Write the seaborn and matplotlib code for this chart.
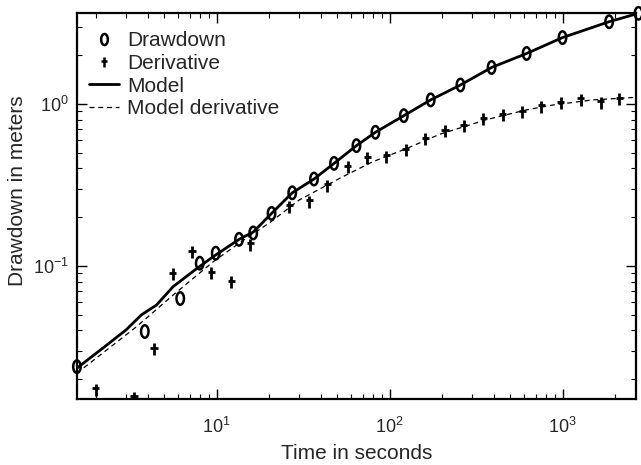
import numpy as np
import pandas as pd
import matplotlib
matplotlib.use("Agg")
import matplotlib.pyplot as plt
from matplotlib.path import Path
from matplotlib.lines import Line2D
import seaborn as sns

# ---- data ----
drawdown_t = [1.56, 3.85, 6.17, 8.0, 9.9, 13.5, 16.3, 20.8, 27.4, 36.6, 47.8, 64.4,
              82.9, 121, 173, 257, 389, 620, 1000, 1860, 2750]
drawdown_s = [0.0239, 0.0394, 0.063, 0.104, 0.12, 0.146, 0.16, 0.211, 0.283, 0.344,
              0.43, 0.553, 0.669, 0.847, 1.06, 1.31, 1.68, 2.05, 2.57, 3.22, 3.63]

deriv_t = [2.0, 3.33, 4.35, 5.59, 7.22, 9.35, 12.2, 15.7, 26.3, 34.3, 43.8, 57.2, 74.6,
           96, 124, 161, 209, 269, 348, 452, 585, 754, 975, 1277, 1660, 2127]
deriv_s = [0.0172, 0.0154, 0.0306, 0.0889, 0.1216, 0.090, 0.0794, 0.135, 0.232, 0.249,
           0.313, 0.407, 0.462, 0.473, 0.52, 0.605, 0.681, 0.731, 0.807, 0.855, 0.889,
           0.962, 1.01, 1.06, 1.02, 1.07]

model_t = [1.56, 2.21, 3.0, 3.68, 4.5, 5.61, 7.5, 9.55, 13.5, 16.3, 20.8, 27.4, 36.6,
           47.8, 64.4, 82.9, 121, 173, 257, 389, 620, 1000, 1860, 2750]
model_s = [0.0234, 0.0312, 0.0403, 0.0499, 0.0574, 0.0745, 0.0945, 0.114, 0.146, 0.162,
           0.211, 0.283, 0.344, 0.43, 0.553, 0.669, 0.847, 1.06, 1.31, 1.68, 2.05, 2.57,
           3.22, 3.63]

mderiv_t = [1.56, 2.2, 3.45, 5.6, 9.55, 14, 20.3, 30, 51.6, 80, 125, 195, 363, 620,
            883, 1500, 2700]
mderiv_s = [0.0218, 0.029, 0.0422, 0.066, 0.106, 0.142, 0.185, 0.255, 0.348, 0.44,
            0.53, 0.65, 0.80, 0.92, 0.986, 1.06, 1.10]

x_ticks = [10, 100, 1000]
x_ticklabels = ["$10^{1}$", "$10^{2}$", "$10^{3}$"]
y_ticks = [0.1, 1]
y_ticklabels = ["$10^{-1}$", "$10^{0}$"]

labels = ["Drawdown", "Derivative", "Model", "Model derivative"]

# ---- style ----
sns.set_style("white")
plt.rcParams["font.family"] = ["Liberation Sans", "DejaVu Sans"]
plt.rcParams["mathtext.default"] = "regular"
plt.rcParams["mathtext.fontset"] = "custom"
plt.rcParams["mathtext.rm"] = "Liberation Sans"

FS = 15
TFS = 13

# custom markers: narrow ellipse and dagger-like plus
theta = np.linspace(0, 2 * np.pi, 60)
ell_verts = np.column_stack([0.3 * np.cos(theta), 0.5 * np.sin(theta)])
ellipse = Path(ell_verts, closed=True)
plus = Path([[0, -0.5], [0, 0.5], [-0.3, 0.12], [0.3, 0.12]],
            [Path.MOVETO, Path.LINETO, Path.MOVETO, Path.LINETO])

fig = plt.figure(figsize=(6.41, 4.65), dpi=100)
ax = fig.add_axes([0.120, 0.142, 0.872, 0.829])

df_model = pd.DataFrame({"t": model_t, "s": model_s})
df_mderiv = pd.DataFrame({"t": mderiv_t, "s": mderiv_s})
df_dd = pd.DataFrame({"t": drawdown_t, "s": drawdown_s})
df_der = pd.DataFrame({"t": deriv_t, "s": deriv_s})

sns.lineplot(data=df_model, x="t", y="s", ax=ax, color="black", lw=2.0,
             sort=False, estimator=None)
sns.lineplot(data=df_mderiv, x="t", y="s", ax=ax, color="black", lw=0.9,
             linestyle=(0, (4, 3)), sort=False, estimator=None)
sns.scatterplot(data=df_dd, x="t", y="s", ax=ax, marker=ellipse, s=80,
                facecolor="none", edgecolor="black", linewidth=1.8, clip_on=False,
                zorder=5)
sns.scatterplot(data=df_der, x="t", y="s", ax=ax, marker=plus, s=75,
                facecolor="none", edgecolor="black", linewidth=2.0, zorder=5)

ax.set_xscale("log")
ax.set_yscale("log")
ax.set_xlim(1.56, 2655)
ax.set_ylim(0.0151, 3.62)

ax.set_xticks(x_ticks)
ax.set_xticklabels(x_ticklabels)
ax.set_yticks(y_ticks)
ax.set_yticklabels(y_ticklabels)

ax.set_xlabel("Time in seconds", fontsize=FS, labelpad=5)
ax.set_ylabel("Drawdown in meters", fontsize=FS, labelpad=2)
ax.yaxis.set_label_coords(-0.089, 0.54)

ax.tick_params(which="both", direction="in", top=True, right=True,
               bottom=True, left=True, labelsize=TFS, color="black")
ax.tick_params(which="major", length=7, width=1.0)
ax.tick_params(axis="x", which="major", pad=13)
ax.tick_params(axis="y", which="major", pad=6)
ax.tick_params(which="minor", length=3.5, width=0.8)
ax.xaxis.set_minor_locator(matplotlib.ticker.LogLocator(base=10, subs=np.arange(2, 10), numticks=20))
ax.yaxis.set_minor_locator(matplotlib.ticker.LogLocator(base=10, subs=np.arange(2, 10), numticks=20))
ax.xaxis.set_minor_formatter(matplotlib.ticker.NullFormatter())
ax.yaxis.set_minor_formatter(matplotlib.ticker.NullFormatter())

for sp in ax.spines.values():
    sp.set_visible(True)
    sp.set_color("black")
    sp.set_linewidth(1.6)

handles = [
    Line2D([], [], linestyle="none", marker=ellipse, markersize=8,
           markerfacecolor="none", markeredgecolor="black", markeredgewidth=1.8),
    Line2D([], [], linestyle="none", marker=plus, markersize=7,
           markeredgecolor="black", markeredgewidth=1.8),
    Line2D([], [], color="black", lw=2.0),
    Line2D([], [], color="black", lw=0.9, linestyle=(0, (4, 3))),
]
leg = ax.legend(handles, labels, loc="upper left", frameon=False, fontsize=FS,
                handlelength=1.45, handletextpad=0.38, labelspacing=0.18,
                borderaxespad=0.0, borderpad=0.0,
                bbox_to_anchor=(0.022, 0.954))

fig.savefig("out.png", dpi=100)
